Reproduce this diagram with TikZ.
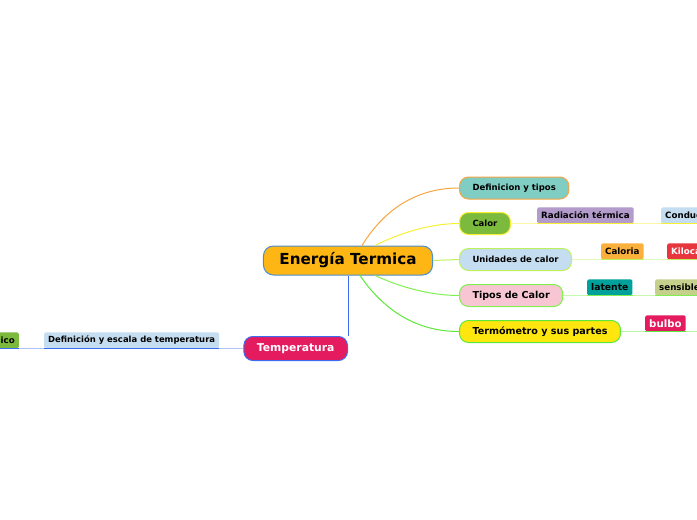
\documentclass[tikz,border=0pt]{standalone}
\usepackage{fontspec}
\setmainfont{DejaVu Sans}
\usepackage{tikz}
\usetikzlibrary{calc}
\definecolor{rootFill}{HTML}{FDB614}
\definecolor{rootEdge}{HTML}{4A8FD0}
\definecolor{defFill}{HTML}{7FCDC3}
\definecolor{calorFill}{HTML}{7CBA3D}
\definecolor{unidFill}{HTML}{C5DDF0}
\definecolor{tiposFill}{HTML}{F8C6D3}
\definecolor{termoFill}{HTML}{FFE60F}
\definecolor{tempFill}{HTML}{E41B5E}
\definecolor{orangeLink}{HTML}{F7A540}
\definecolor{yellowLink}{HTML}{F8F033}
\definecolor{limeLink}{HTML}{BDF25C}
\definecolor{greenLink}{HTML}{80F050}
\definecolor{brightGreen}{HTML}{5CE83A}
\definecolor{blueLink}{HTML}{3D6BF2}
\definecolor{radFill}{HTML}{B39BCB}
\definecolor{condFill}{HTML}{C5DDF0}
\definecolor{caloFill}{HTML}{FBB03B}
\definecolor{kiloFill}{HTML}{E8363F}
\definecolor{latFill}{HTML}{00A19A}
\definecolor{sensFill}{HTML}{C4D08C}
\definecolor{bulboFill}{HTML}{E41B5E}
\definecolor{escFill}{HTML}{C5DDF0}
\definecolor{icoFill}{HTML}{7CBA3D}
\tikzset{
  root/.style  = {draw=rootEdge, fill=rootFill, line width=1pt, rounded corners=10pt,
                  font=\bfseries\fontsize{15.2}{18}\selectfont, minimum height=29pt,
                  inner xsep=16pt, inner ysep=0pt},
  topic/.style = {line width=1pt, rounded corners=9pt, anchor=west,
                  font=\bfseries\fontsize{8.5}{10}\selectfont, minimum height=22pt,
                  inner xsep=13pt, inner ysep=0pt},
  big/.style   = {font=\bfseries\fontsize{9.6}{11}\selectfont},
  leaf/.style  = {rounded corners=1.5pt, anchor=south west, minimum height=16pt,
                  font=\bfseries\fontsize{8.7}{10}\selectfont, inner xsep=4pt, inner ysep=0pt},
  cut/.style   = {text width=52pt, align=left},
  link/.style  = {line width=1pt},
  branch/.style= {line width=0.8pt},
  ul/.style    = {line width=1.6pt}
}
\begin{document}
\begin{tikzpicture}[x=1pt, y=-1pt]
  \clip (0,0) rectangle (697,520);
  \fill[white] (0,0) rectangle (697,520);

  % central topic and its main branches
  \node[root] (energia) at (348,260.5) {Energía Termica};
  \node[topic, draw=orangeLink, fill=defFill] (def) at (459,188) {Definicion y tipos};
  \node[topic, draw=yellowLink, fill=calorFill] (calor) at (459,223.5) {Calor};
  \node[topic, draw=limeLink, fill=unidFill] (unid) at (459,259.5) {Unidades de calor};
  \node[topic, big, draw=greenLink, fill=tiposFill] (tipos) at (459,295.5) {Tipos de Calor};
  \node[topic, big, draw=brightGreen, fill=termoFill] (termo) at (459,331.5) {Termómetro y sus partes};
  \node[topic, anchor=east, draw=blueLink, fill=tempFill, text=white,
        font=\bfseries\fontsize{10.8}{12}\selectfont, minimum height=24pt] (temp) at (348,348.5) {Temperatura};

  \draw[link, orangeLink] ($(energia.north)+(14,0)$) .. controls (385,208) and (418,188) .. (def.west);
  \draw[link, yellowLink] ($(energia.north)+(27,0)$) .. controls (400,233) and (430,223.5) .. (calor.west);
  \draw[link, limeLink] (energia.east) -- (unid.west);
  \draw[link, greenLink] ($(energia.south)+(27,0)$) .. controls (400,287) and (430,295.5) .. (tipos.west);
  \draw[link, brightGreen] ($(energia.south)+(12,0)$) .. controls (385,312) and (418,331.5) .. (termo.west);
  \draw[link, blueLink] (energia.south) -- (energia.south |- temp.north);

  % free ends of the sub-branches
  \coordinate (calorEnd) at (720,223.5);
  \coordinate (unidEnd) at (720,259.5);
  \coordinate (tiposEnd) at (720,295.5);
  \coordinate (termoEnd) at (720,331.5);
  \coordinate (tempEnd) at (-20,348.5);
  \draw[branch, yellowLink!45] (calor.east) -- (calorEnd);
  \draw[branch, limeLink!45] (unid.east) -- (unidEnd);
  \draw[branch, greenLink!45] (tipos.east) -- (tiposEnd);
  \draw[branch, brightGreen!45] (termo.east) -- (termoEnd);
  \draw[branch, blueLink!40] (temp.west) -- (tempEnd);

  % sub-topics
  \node[leaf, fill=radFill] (rad) at (537,223.5) {Radiación térmica};
  \node[leaf, cut, fill=condFill] (cond) at (661,223.5) {Conduc};
  \node[leaf, fill=caloFill] (calo) at (601,259.5) {Caloria};
  \node[leaf, cut, fill=kiloFill, text=white] (kilo) at (667,259.5) {Kiloca};
  \node[leaf, fill=latFill, font=\bfseries\fontsize{9.2}{11}\selectfont] (lat) at (587,295.5) {latente};
  \node[leaf, cut, fill=sensFill] (sens) at (655,295.5) {sensible};
  \node[leaf, fill=bulboFill, text=white, font=\bfseries\fontsize{10.2}{12}\selectfont] (bulbo) at (645,331.5) {bulbo};
  \node[leaf, fill=escFill, font=\bfseries\fontsize{8.45}{10}\selectfont] (esc) at (44,348.5) {Definición y escala de temperatura};
  \node[leaf, anchor=south east, fill=icoFill] (ico) at (19,348.5) {ico};

  \draw[ul, yellowLink] (rad.south west) -- (rad.south east);
  \draw[ul, yellowLink] (cond.south west) -- (cond.south east);
  \draw[ul, limeLink] (calo.south west) -- (calo.south east);
  \draw[ul, limeLink] (kilo.south west) -- (kilo.south east);
  \draw[ul, greenLink] (lat.south west) -- (lat.south east);
  \draw[ul, greenLink] (sens.south west) -- (sens.south east);
  \draw[ul, brightGreen] (bulbo.south west) -- (bulbo.south east);
  \draw[ul, blueLink] (esc.south west) -- (esc.south east);
  \draw[ul, blueLink] (ico.south west) -- (ico.south east);
\end{tikzpicture}
\end{document}
